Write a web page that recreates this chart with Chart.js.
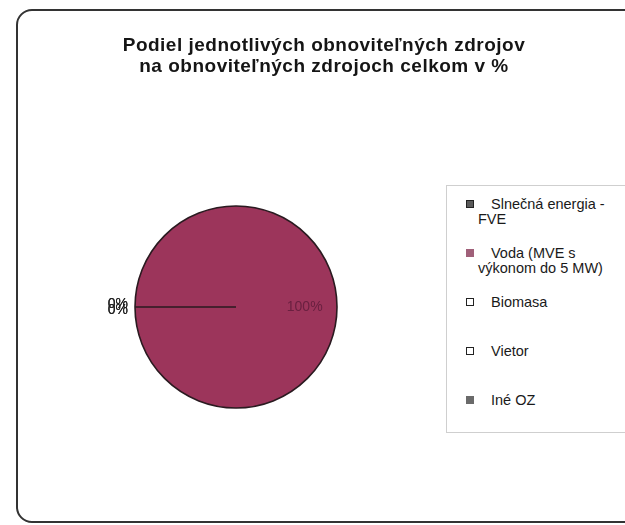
<!DOCTYPE html>
<html>
<head>
<meta charset="utf-8">
<script src="https://cdn.jsdelivr.net/npm/chart.js@4/dist/chart.umd.min.js"></script>
<style>
  html, body { margin: 0; padding: 0; background: #fff; width: 625px; height: 525px; overflow: hidden; }
  #frame { position: absolute; left: 16px; top: 9px; width: 700px; height: 510px; border: 2.5px solid #333; border-radius: 16px; }
  #chart { position: absolute; left: 0; top: 0; }
  #title { position: absolute; left: 74px; width: 500px; top: 34px; text-align: center;
           font-family: "Liberation Sans", Arial, sans-serif; font-weight: bold; font-size: 19px; letter-spacing: 0.5px; line-height: 21px; color: #151515; }
  #legend { position: absolute; left: 446px; top: 185px; width: 220px; height: 246px; border: 1px solid #cfcfcf; background: #fff;
            font-family: "Liberation Sans", Arial, sans-serif; font-size: 14.5px; line-height: 15px; color: #1a1a1a; }
  .item { position: absolute; left: 31px; width: 142px; text-indent: 13px; }
  .mk { position: absolute; left: -12px; top: 3px; width: 6px; height: 6px; border: 1.5px solid #222; text-indent: 0; }
</style>
</head>
<body>
<div id="frame"></div>
<canvas id="chart" width="625" height="525"></canvas>
<div id="title"></div>
<div id="legend"></div>
<script>
const titleLines = ['Podiel jednotlivých obnoviteľných zdrojov', 'na obnoviteľných zdrojoch celkom v %'];
const categories = ['Slnečná energia - FVE', 'Voda (MVE s výkonom do 5 MW)', 'Biomasa', 'Vietor', 'Iné OZ'];
const shares = [0, 100, 0, 0, 0];
const sliceColors = ['#555555', '#9c355b', '#ffffff', '#ffffff', '#666666'];
const legendColors = ['#5a5a5a', '#a06079', '#ffffff', '#ffffff', '#6a6a6a'];

document.getElementById('title').innerHTML = titleLines.join('<br>');

// HTML legend built from the arrays
const legend = document.getElementById('legend');
categories.forEach((name, i) => {
  const d = document.createElement('div');
  d.className = 'item';
  d.style.top = (11 + i * 49) + 'px';
  const m = document.createElement('span');
  m.className = 'mk';
  m.style.background = legendColors[i];
  if (i === 1 || i === 4) m.style.borderColor = legendColors[i];
  d.appendChild(m);
  d.appendChild(document.createTextNode(name));
  legend.appendChild(d);
});

const labelPlugin = {
  id: 'pctLabels',
  afterDatasetsDraw(chart) {
    const ctx = chart.ctx;
    const meta = chart.getDatasetMeta(0);
    const vals = chart.data.datasets[0].data;
    const total = vals.reduce((a, b) => a + b, 0);
    ctx.save();
    ctx.font = '14px "Liberation Sans", Arial, sans-serif';
    ctx.textBaseline = 'middle';
    let zeroCount = 0;
    meta.data.forEach((arc, i) => {
      const p = arc.getProps(['x', 'y', 'startAngle', 'endAngle', 'outerRadius'], true);
      const mid = (p.startAngle + p.endAngle) / 2;
      const pct = Math.round(vals[i] / total * 100) + '%';
      if (vals[i] === 0) {
        const r = p.outerRadius + 7;
        const dy = (zeroCount % 2 === 0 ? -3 : 3);
        zeroCount++;
        ctx.fillStyle = '#222';
        ctx.textAlign = 'right';
        ctx.fillText(pct, p.x + Math.cos(mid) * r, p.y + Math.sin(mid) * r + dy);
      } else {
        const r = p.outerRadius * 0.68;
        ctx.fillStyle = '#6a2040';
        ctx.textAlign = 'center';
        ctx.fillText(pct, p.x + Math.cos(mid) * r, p.y + Math.sin(mid) * r);
      }
    });
    ctx.restore();
  }
};

new Chart(document.getElementById('chart'), {
  type: 'pie',
  data: {
    labels: categories,
    datasets: [{
      data: shares,
      backgroundColor: sliceColors,
      borderColor: '#2a1a20',
      borderWidth: 1.6
    }]
  },
  options: {
    responsive: false,
    animation: false,
    rotation: 270,
    radius: 101,
    layout: { padding: { left: 116, right: 269, top: 187, bottom: 98 } },
    plugins: {
      legend: { display: false },
      tooltip: { enabled: false },
      title: { display: false }
    }
  },
  plugins: [labelPlugin]
});
</script>
</body>
</html>
